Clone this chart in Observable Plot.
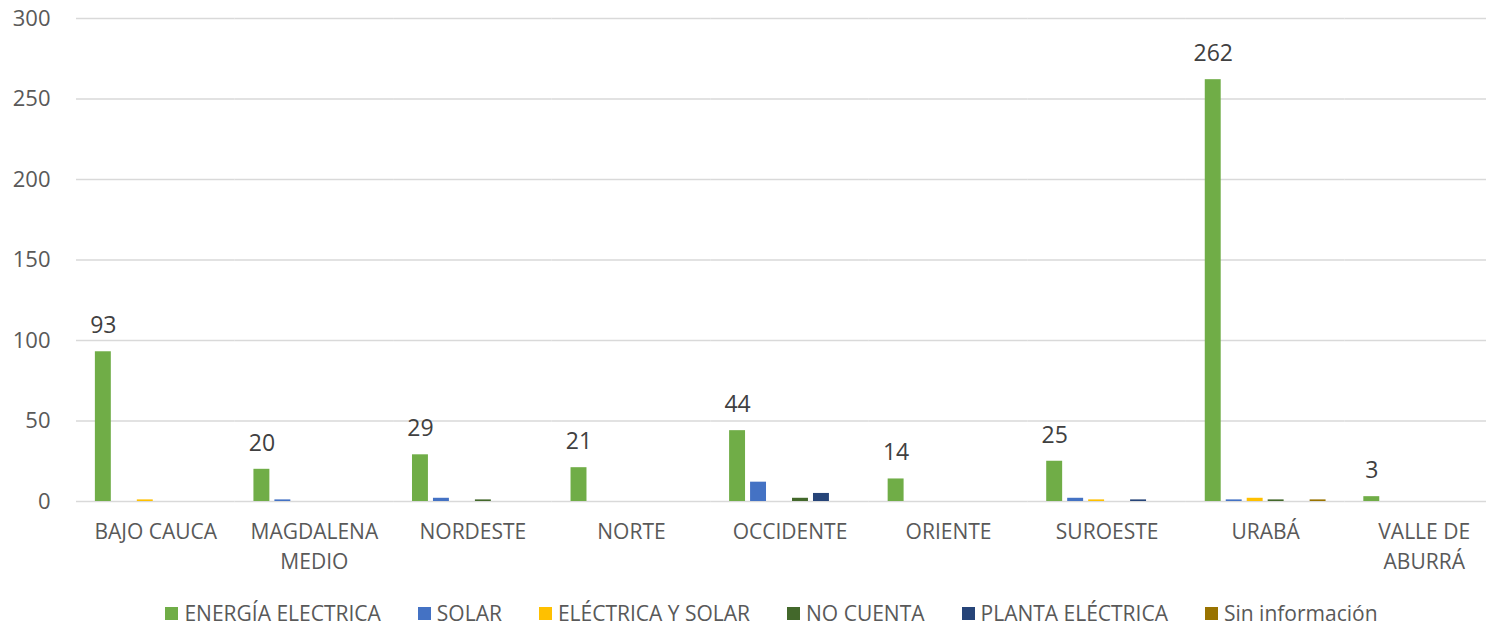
<!DOCTYPE html>
<html>
<head>
<meta charset="utf-8">
<script src="https://cdn.jsdelivr.net/npm/d3@7"></script>
<script src="https://cdn.jsdelivr.net/npm/@observablehq/plot@0.6"></script>
<style>
  html, body { margin: 0; padding: 0; background: #fff; overflow: hidden; }
  #chart svg { display: block; }
  .legend { display: flex; justify-content: center; gap: 37px; padding-left: 57px; margin-top: 10px;
            font-family: "Open Sans", sans-serif; font-size: 21px; color: #595959; line-height: 26px; }
  .legend span.item { display: flex; align-items: center; white-space: nowrap; }
  .legend span.sw { display: inline-block; width: 13px; height: 13px; margin-right: 6px; }
</style>
</head>
<body>
<div id="chart"></div>
<script>
const categories = ["BAJO CAUCA", "MAGDALENA\nMEDIO", "NORDESTE", "NORTE", "OCCIDENTE", "ORIENTE", "SUROESTE", "URABÁ", "VALLE DE\nABURRÁ"];
const series = ["ENERGÍA ELECTRICA", "SOLAR", "ELÉCTRICA Y SOLAR", "NO CUENTA", "PLANTA ELÉCTRICA", "Sin información"];
const colors = ["#70AD47", "#4472C4", "#FFC000", "#43682B", "#264478", "#997300"];
const energiaElectrica = [93, 20, 29, 21, 44, 14, 25, 262, 3];
const solar = [0, 1, 2, 0, 12, 0, 2, 1, 0];
const electricaYSolar = [1, 0, 0, 0, 0, 0, 1, 2, 0];
const noCuenta = [0, 0, 1, 0, 2, 0, 0, 1, 0];
const plantaElectrica = [0, 0, 0, 0, 5, 0, 1, 0, 0];
const sinInformacion = [0, 0, 0, 0, 0, 0, 0, 1, 0];
const yTicks = [0, 50, 100, 150, 200, 250, 300];

const seriesValues = [energiaElectrica, solar, electricaYSolar, noCuenta, plantaElectrica, sinInformacion];
const rows = categories.flatMap((c, i) => series.map((s, j) => ({category: c, series: s, value: seriesValues[j][i]})));

const chart = Plot.plot({
  width: 1486,
  height: 590,
  marginLeft: 76,
  marginRight: -17,
  marginTop: 18,
  marginBottom: 89,
  style: {fontFamily: "Open Sans, sans-serif", fontSize: "20px", color: "#595959", background: "white"},
  fx: {domain: categories, padding: 0, round: false, label: null},
  x: {domain: series, paddingInner: 0.24, paddingOuter: 0.9, round: false, axis: null},
  y: {domain: [0, 300], label: null},
  color: {domain: series, range: colors},
  marks: [
    Plot.gridY(yTicks, {stroke: "#d9d9d9", strokeOpacity: 1, strokeWidth: 1.5}),
    Plot.barY(rows, {fx: "category", x: "series", y: "value", fill: "series"}),
    Plot.text(rows.filter(d => d.series === series[0]), {
      fx: "category", x: "series", y: "value", text: d => String(d.value),
      dy: -26, fontSize: 23, fill: "#404040"
    }),
    Plot.axisY(yTicks, {tickSize: 0, tickPadding: 26, fontSize: 22, fill: "#595959", label: null}),
    Plot.axisFx({anchor: "bottom", tickSize: 0, tickPadding: 17, fontSize: 21, lineHeight: 1.4, fill: "#595959", label: null})
  ]
});
document.getElementById("chart").appendChild(chart);

const legend = document.createElement("div");
legend.className = "legend";
series.forEach((s, i) => {
  const item = document.createElement("span");
  item.className = "item";
  const sw = document.createElement("span");
  sw.className = "sw";
  sw.style.background = colors[i];
  item.appendChild(sw);
  item.appendChild(document.createTextNode(s));
  legend.appendChild(item);
});
document.body.appendChild(legend);
</script>
</body>
</html>
